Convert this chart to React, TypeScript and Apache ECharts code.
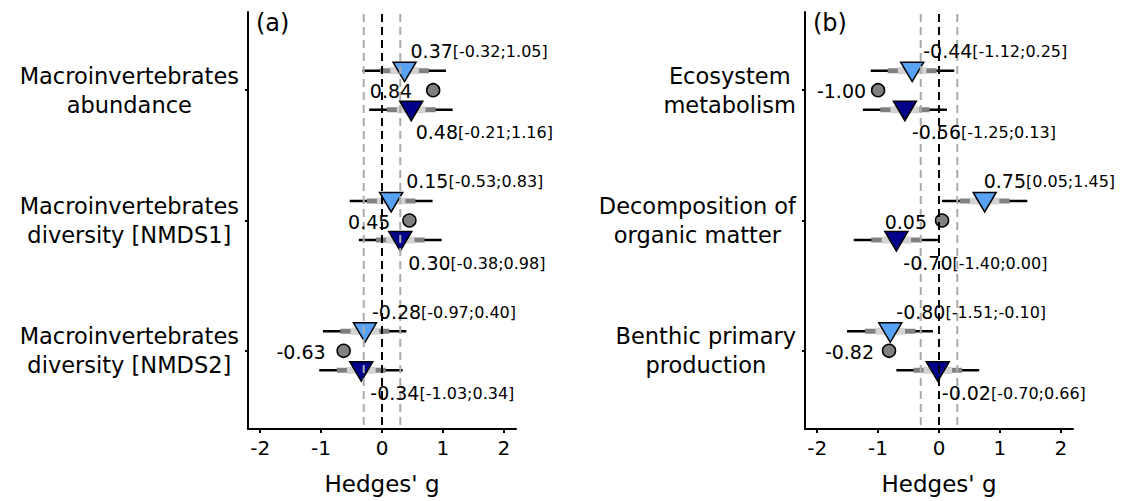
import React, { useEffect, useRef } from "react";
import * as echarts from "echarts";

const FONT = "DejaVu Sans";

// ---------- data ----------
const X_TICKS = [-2, -1, 0, 1, 2];
const REF_LINES = [-0.3, 0, 0.3];
const REF_KIND = [0, 1, 0]; // 0 grey, 1 black

const A_CATEGORIES = [
  "Macroinvertebrates\nabundance",
  "Macroinvertebrates\ndiversity [NMDS1]",
  "Macroinvertebrates\ndiversity [NMDS2]",
];
const A_LIGHT_EST = [0.37, 0.15, -0.28];
const A_LIGHT_LO = [-0.32, -0.53, -0.97];
const A_LIGHT_HI = [1.05, 0.83, 0.4];
const A_DARK_EST = [0.48, 0.3, -0.34];
const A_DARK_LO = [-0.21, -0.38, -1.03];
const A_DARK_HI = [1.16, 0.98, 0.34];
const A_CIRCLE = [0.84, 0.45, -0.63];

const B_CATEGORIES = [
  "Ecosystem\nmetabolism",
  "Decomposition of\norganic matter",
  "Benthic primary\nproduction",
];
const B_LIGHT_EST = [-0.44, 0.75, -0.8];
const B_LIGHT_LO = [-1.12, 0.05, -1.51];
const B_LIGHT_HI = [0.25, 1.45, -0.1];
const B_DARK_EST = [-0.56, -0.7, -0.02];
const B_DARK_LO = [-1.25, -1.4, -0.7];
const B_DARK_HI = [0.13, 0.0, 0.66];
const B_CIRCLE = [-1.0, 0.05, -0.82];

// ---------- layout / style (not data) ----------
const A_LIGHT_NUDGE = [-1, 8, 0];
const A_DARK_NUDGE = [-2.5, 1, 2];
const B_LIGHT_NUDGE = [4, -8, -1];
const B_DARK_NUDGE = [0, 0, -3];
const A_CIRCLE_GAP = [21, 19, 18];
const B_CIRCLE_GAP = [12, 15, 15];

const Z50 = 0.674 / 1.96;
const Z75 = 1.15 / 1.96;
const DODGE = 0.15;
const LIGHT = "#58a2f6";
const DARK = "#00008b";

const fmt = (v: number) => v.toFixed(2);

function buildPanel(
  k: number,
  left: number,
  cats: string[],
  lEst: number[], lLo: number[], lHi: number[],
  dEst: number[], dLo: number[], dHi: number[],
  circ: number[],
  lNudge: number[], dNudge: number[], cGap: number[]
) {
  const n = cats.length;
  const grid = { left, top: 12, width: 268, height: 417 };
  const xAxis = {
    gridIndex: k,
    type: "value",
    min: -2.2,
    max: 2.2,
    name: "Hedges' g",
    nameLocation: "middle",
    nameGap: 43,
    nameTextStyle: { fontSize: 23, color: "#000", fontFamily: FONT },
    axisLine: { show: true, onZero: false, lineStyle: { color: "#000", width: 2 } },
    axisTick: { show: true, length: 4, customValues: X_TICKS, lineStyle: { color: "#000", width: 2 } },
    axisLabel: {
      customValues: X_TICKS,
      fontSize: 20,
      color: "#000",
      fontFamily: FONT,
      margin: 9,
      formatter: (v: number) => String(v),
    },
    splitLine: { show: false },
  };
  const yTicks = cats.map((_, i) => n - i);
  const yAxis = {
    gridIndex: k,
    type: "value",
    min: 0.4,
    max: n + 0.6,
    axisLine: { show: true, onZero: false, lineStyle: { color: "#000", width: 2 } },
    axisTick: { show: true, length: 3, customValues: yTicks, lineStyle: { color: "#000", width: 2 } },
    axisLabel: {
      customValues: yTicks,
      margin: 9,
      formatter: (v: number) => {
        const i = n - Math.round(v);
        const c = cats[i];
        if (c === undefined) return "";
        return c.split("\n").map((l) => `{c|${l}}`).join("\n");
      },
      rich: {
        c: { fontSize: 22.5, fontFamily: FONT, color: "#000", lineHeight: 29, align: "center" },
      },
    },
    splitLine: { show: false },
  };

  // interval rows: [y, est, lo, hi, kind]
  const intervals: number[][] = [];
  for (let i = 0; i < n; i++) {
    const yc = n - i;
    intervals.push([yc + DODGE, lEst[i], lLo[i], lHi[i], 0]);
    intervals.push([yc - DODGE, dEst[i], dLo[i], dHi[i], 1]);
  }
  const circles = circ.map((v, i) => [v, n - i]);

  const intervalSeries = {
    type: "custom",
    xAxisIndex: k,
    yAxisIndex: k,
    z: 2,
    silent: true,
    encode: { x: [1, 2, 3], y: 0 },
    data: intervals,
    renderItem: (params: any, api: any) => {
      const y = api.value(0);
      const est = api.value(1);
      const lo = api.value(2);
      const hi = api.value(3);
      const kind = api.value(4);
      const half = (hi - lo) / 2;
      const pLo = api.coord([lo, y]);
      const pHi = api.coord([hi, y]);
      const a75 = api.coord([est - half * Z75, y]);
      const b75 = api.coord([est + half * Z75, y]);
      const a50 = api.coord([est - half * Z50, y]);
      const b50 = api.coord([est + half * Z50, y]);
      const pe = api.coord([est, y]);
      return {
        type: "group",
        children: [
          { type: "line", shape: { x1: pLo[0], y1: pLo[1], x2: pHi[0], y2: pHi[1] }, style: { stroke: "#000", lineWidth: 2.5 } },
          { type: "line", shape: { x1: a75[0], y1: a75[1], x2: b75[0], y2: b75[1] }, style: { stroke: "#808080", lineWidth: 5 } },
          { type: "line", shape: { x1: a50[0], y1: a50[1], x2: b50[0], y2: b50[1] }, style: { stroke: "#d3d3d3", lineWidth: 7 } },
          {
            type: "polygon",
            shape: { points: [[pe[0] - 11.5, pe[1] - 8.5], [pe[0] + 11.5, pe[1] - 8.5], [pe[0], pe[1] + 11]] },
            style: { fill: kind === 0 ? LIGHT : DARK, stroke: "#000", lineWidth: 1.5 },
          },
        ],
      };
    },
  };

  const circleSeries = {
    type: "scatter",
    xAxisIndex: k,
    yAxisIndex: k,
    z: 2,
    silent: true,
    symbol: "circle",
    symbolSize: 13,
    itemStyle: { color: "#808080", borderColor: "#000", borderWidth: 1.5, opacity: 1 },
    data: circles,
  };

  const refSeries = {
    type: "custom",
    xAxisIndex: k,
    yAxisIndex: k,
    z: 5,
    silent: true,
    encode: { x: 0 },
    data: REF_LINES.map((v, i) => [v, REF_KIND[i]]),
    renderItem: (params: any, api: any) => {
      const x = api.value(0);
      const kind = api.value(1);
      const p1 = api.coord([x, n + 0.6]);
      const p2 = api.coord([x, 0.4]);
      return {
        type: "line",
        shape: { x1: p1[0], y1: p1[1] + 2, x2: p2[0], y2: p2[1] },
        style: { stroke: kind === 1 ? "#000" : "#ababab", lineWidth: 2, lineDash: [8, 5] },
      };
    },
  };

  // label rows: [x, y, type(0 light,1 dark,2 circle), index]
  const labels: number[][] = [];
  for (let i = 0; i < n; i++) {
    const yc = n - i;
    labels.push([lEst[i], yc + DODGE, 0, i]);
    labels.push([dEst[i], yc - DODGE, 1, i]);
    labels.push([circ[i], yc, 2, i]);
  }
  const richStyles = {
    b: { fontSize: 19, fontFamily: FONT, fill: "#000", verticalAlign: "bottom", lineHeight: 22 },
    s: { fontSize: 16, fontFamily: FONT, fill: "#000", verticalAlign: "bottom", lineHeight: 22, padding: [0, 0, 1, 0] },
  };
  const labelSeries = {
    type: "custom",
    xAxisIndex: k,
    yAxisIndex: k,
    z: 6,
    silent: true,
    encode: { x: 0, y: 1 },
    data: labels,
    renderItem: (params: any, api: any) => {
      const x = api.value(0);
      const y = api.value(1);
      const t = api.value(2);
      const i = api.value(3);
      const p = api.coord([x, y]);
      if (t === 2) {
        return {
          type: "text",
          x: p[0] - cGap[i],
          y: p[1] + 1,
          style: { text: fmt(circ[i]), fontSize: 19, fontFamily: FONT, fill: "#000", align: "right", verticalAlign: "middle" },
        };
      }
      const est = t === 0 ? lEst[i] : dEst[i];
      const lo = t === 0 ? lLo[i] : dLo[i];
      const hi = t === 0 ? lHi[i] : dHi[i];
      const nudge = t === 0 ? lNudge[i] : dNudge[i];
      return {
        type: "text",
        x: p[0] + 7 + nudge,
        y: p[1] + (t === 0 ? -21 : 21),
        style: {
          text: `{b|${fmt(est)}}{s|[${fmt(lo)};${fmt(hi)}]}`,
          rich: richStyles,
          align: "left",
          verticalAlign: "middle",
        },
      };
    },
  };

  return { grid, xAxis, yAxis, series: [intervalSeries, circleSeries, refSeries, labelSeries] };
}

export default function App() {
  const ref = useRef<HTMLDivElement>(null);
  useEffect(() => {
    if (!ref.current) return;
    const chart = echarts.init(ref.current, undefined, { renderer: "svg" });
    const pa = buildPanel(0, 248, A_CATEGORIES, A_LIGHT_EST, A_LIGHT_LO, A_LIGHT_HI, A_DARK_EST, A_DARK_LO, A_DARK_HI, A_CIRCLE, A_LIGHT_NUDGE, A_DARK_NUDGE, A_CIRCLE_GAP);
    const pb = buildPanel(1, 805, B_CATEGORIES, B_LIGHT_EST, B_LIGHT_LO, B_LIGHT_HI, B_DARK_EST, B_DARK_LO, B_DARK_HI, B_CIRCLE, B_LIGHT_NUDGE, B_DARK_NUDGE, B_CIRCLE_GAP);
    chart.setOption({
      animation: false,
      backgroundColor: "#fff",
      title: [
        { text: "(a)", left: 251, top: 6, textStyle: { fontSize: 24, fontWeight: "normal", color: "#000", fontFamily: FONT } },
        { text: "(b)", left: 808, top: 6, textStyle: { fontSize: 24, fontWeight: "normal", color: "#000", fontFamily: FONT } },
      ],
      grid: [pa.grid, pb.grid],
      xAxis: [pa.xAxis, pb.xAxis],
      yAxis: [pa.yAxis, pb.yAxis],
      series: [...pa.series, ...pb.series],
    });
    return () => chart.dispose();
  }, []);
  return <div ref={ref} style={{ position: "absolute", left: 0, top: 0, width: 1124, height: 501 }} />;
}
